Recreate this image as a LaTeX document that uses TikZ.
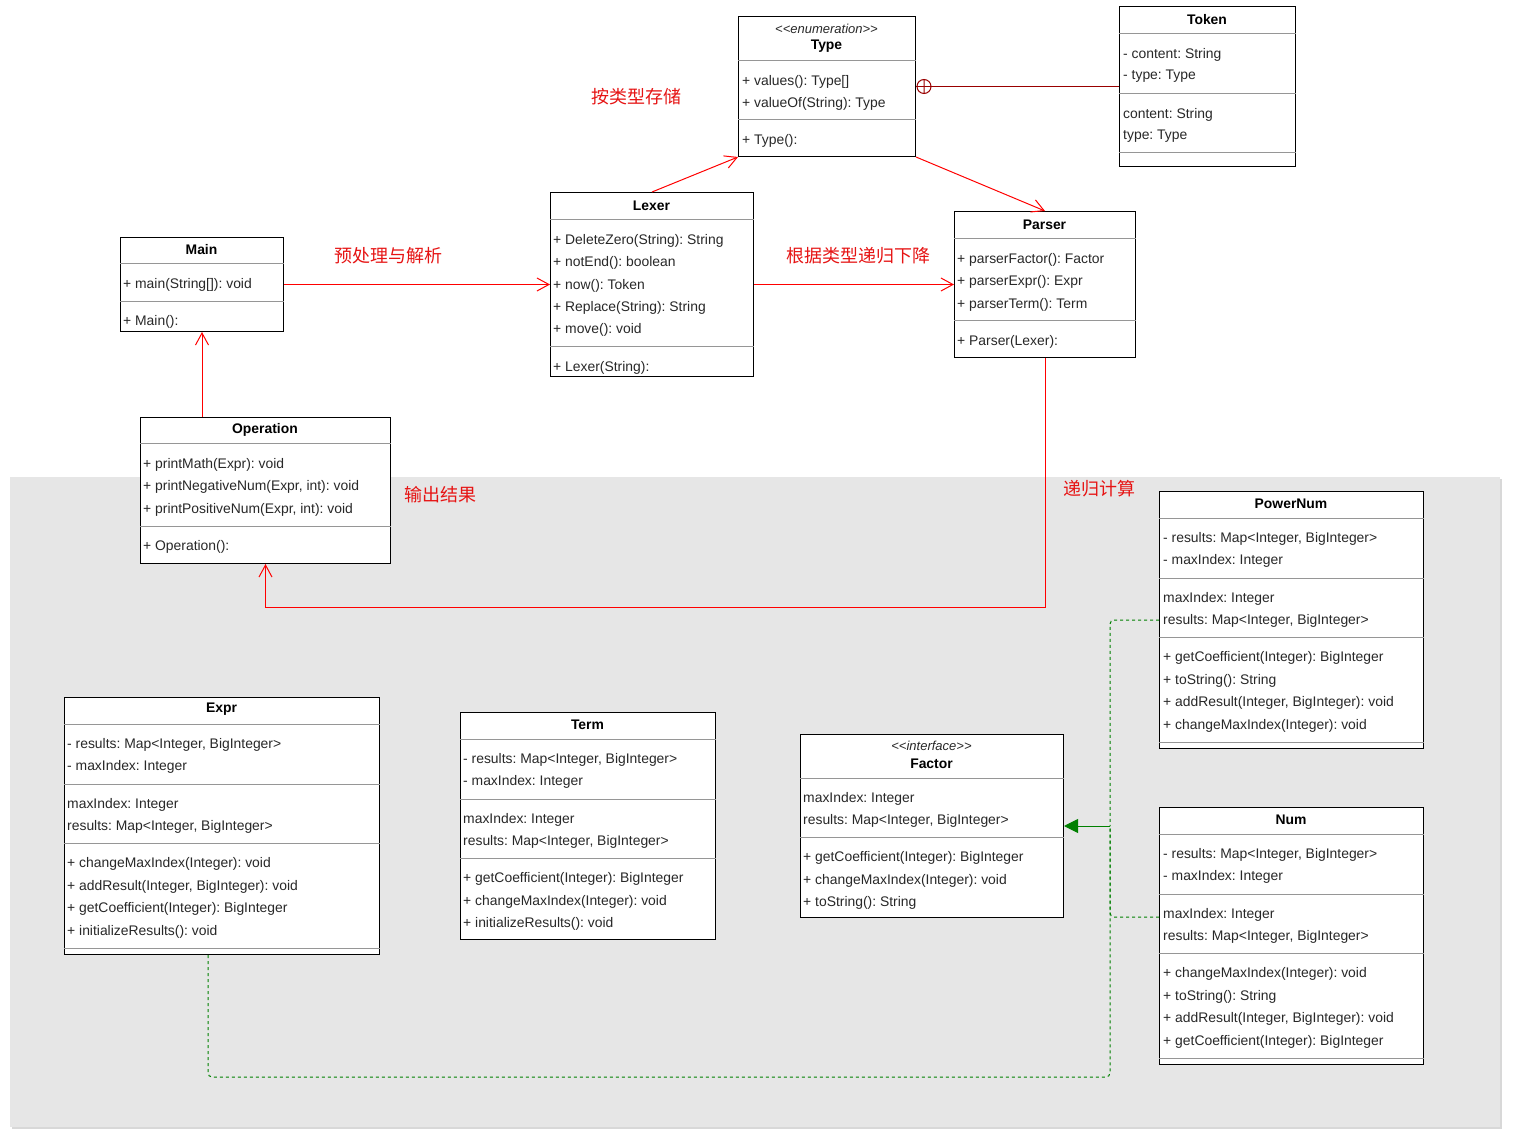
\documentclass[tikz,border=0pt]{standalone}
\usepackage{fontspec}
\setmainfont{Liberation Sans}
\newfontfamily\cjk{Noto Sans CJK SC}
\usetikzlibrary{arrows.meta,calc,shadows}
\frenchspacing
\definecolor{zonegray}{RGB}{230,230,230}
\definecolor{edge}{RGB}{150,150,150}
\definecolor{ink}{RGB}{40,40,40}
\definecolor{flowred}{RGB}{230,20,20}
\definecolor{ownred}{RGB}{153,0,0}
\definecolor{implgreen}{RGB}{0,128,0}
\tikzset{
  classbox/.style={draw=black,fill=white,line width=1pt,anchor=north west,inner sep=0pt},
  ttl/.style={font=\fontsize{13.9}{16}\selectfont\bfseries,text=black,inner sep=0pt,yshift=-1.5pt},
  stereo/.style={font=\fontsize{13}{15}\selectfont\itshape,text=ink,inner sep=0pt,yshift=-1pt},
  member/.style={anchor=west,font=\fontsize{13.9}{16}\selectfont,text=ink,inner sep=0pt,yshift=-1.5pt},
  sep/.style={draw=edge,line width=1pt},
  rel/.style={draw=red,line width=1pt,-{Straight Barb[length=12pt,width=13pt]}},
  own/.style={draw=ownred,line width=1pt},
  real/.style={draw=implgreen,line width=1pt,dash pattern=on 3pt off 3pt,rounded corners=4pt},
  realhead/.style={draw=implgreen,line width=1pt,-{Triangle[length=14pt,width=14pt,fill=implgreen]}},
  note/.style={font=\cjk\fontsize{18}{20}\selectfont,text=flowred,inner sep=0pt},
  area/.style={fill=zonegray,anchor=north west,inner sep=0pt,
    drop shadow={shadow xshift=2pt,shadow yshift=-2pt,opacity=0.3}},
}
% rows of a class: node, x, list of y/text
\newcommand{\members}[3]{\foreach \yy/\mem [count=\k] in {#3} \node[member] (#1-\k) at (#2,\yy) {\mem};}
% compartment lines of a class
\newcommand{\seps}[2]{\foreach \yy in {#2} \draw[sep] (#1.west |- 0,\yy) -- (#1.east |- 0,\yy);}

\begin{document}
\begin{tikzpicture}[x=1pt,y=-1pt]
  \fill[white] (0,0) rectangle (1513,1139);
  \useasboundingbox (0,0) rectangle (1513,1139);
  \node[area,minimum width=1490,minimum height=650] (zone) at (10,477) {};

  % Type
  \node[classbox,minimum width=177,minimum height=140] (type) at (738,16) {};
  \node[stereo] (type-s) at (826.5,28) {<\kern0pt<enumeration>\kern0pt>};
  \node[ttl] (type-t) at (826.5,45) {Type};
  \seps{type}{61,120}
  \members{type}{742}{80/+ values(): Type[], 102/+ valueOf(String): Type, 139/+ Type():}

  % Token
  \node[classbox,minimum width=176,minimum height=160] (token) at (1119,6) {};
  \node[ttl] (token-t) at (1207,18) {Token};
  \seps{token}{34,94,153}
  \members{token}{1123}{53/- content: String, 75/- type: Type, 113/content: String, 135/type: Type}

  % Lexer
  \node[classbox,minimum width=203,minimum height=184] (lexer) at (550,192) {};
  \node[ttl] (lexer-t) at (651.5,204) {Lexer};
  \seps{lexer}{220,347}
  \members{lexer}{553}{239/+ DeleteZero(String): String, 261/+ notEnd(): boolean, 284/+ now(): Token,
    306/+ Replace(String): String, 328/+ move(): void, 366/+ Lexer(String):}

  % Parser
  \node[classbox,minimum width=181,minimum height=146] (parser) at (954,211) {};
  \node[ttl] (parser-t) at (1044.5,223) {Parser};
  \seps{parser}{239,321}
  \members{parser}{957}{258/+ parserFactor(): Factor, 280/+ parserExpr(): Expr, 303/+ parserTerm(): Term,
    340/+ Parser(Lexer):}

  % Main
  \node[classbox,minimum width=163,minimum height=94] (main) at (120,237) {};
  \node[ttl] (main-t) at (201.5,248) {Main};
  \seps{main}{264,302}
  \members{main}{123}{283/+ main(String[]): void, 320/+ Main():}

  % Operation
  \node[classbox,minimum width=250,minimum height=146] (operation) at (140,417) {};
  \node[ttl] (operation-t) at (265,428) {Operation};
  \seps{operation}{444,526}
  \members{operation}{143}{463/+ printMath(Expr): void, 485/{+ printNegativeNum(Expr, int): void},
    508/{+ printPositiveNum(Expr, int): void}, 545/+ Operation():}

  % PowerNum
  \node[classbox,minimum width=264,minimum height=257] (powernum) at (1159,491) {};
  \node[ttl] (powernum-t) at (1291,502) {PowerNum};
  \seps{powernum}{518,578,637,742}
  \members{powernum}{1163}{537/{- results: Map<Integer, BigInteger>}, 559/- maxIndex: Integer,
    597/maxIndex: Integer, 619/{results: Map<Integer, BigInteger>},
    656/+ getCoefficient(Integer): BigInteger, 679/+ toString(): String,
    701/{+ addResult(Integer, BigInteger): void}, 724/+ changeMaxIndex(Integer): void}

  % Expr
  \node[classbox,minimum width=315,minimum height=257] (expr) at (64,697) {};
  \node[ttl] (expr-t) at (221.5,708) {Expr};
  \seps{expr}{724,784,843,948}
  \members{expr}{67}{743/{- results: Map<Integer, BigInteger>}, 765/- maxIndex: Integer,
    803/maxIndex: Integer, 825/{results: Map<Integer, BigInteger>},
    862/+ changeMaxIndex(Integer): void, 885/{+ addResult(Integer, BigInteger): void},
    907/+ getCoefficient(Integer): BigInteger, 930/+ initializeResults(): void}

  % Term
  \node[classbox,minimum width=255,minimum height=227] (term) at (460,712) {};
  \node[ttl] (term-t) at (587.5,723) {Term};
  \seps{term}{739,799,858}
  \members{term}{463}{758/{- results: Map<Integer, BigInteger>}, 780/- maxIndex: Integer,
    818/maxIndex: Integer, 840/{results: Map<Integer, BigInteger>},
    877/+ getCoefficient(Integer): BigInteger, 900/+ changeMaxIndex(Integer): void,
    922/+ initializeResults(): void}

  % Factor
  \node[classbox,minimum width=263,minimum height=183] (factor) at (800,734) {};
  \node[stereo] (factor-s) at (931.5,745) {<\kern0pt<interface>\kern0pt>};
  \node[ttl] (factor-t) at (931.5,762) {Factor};
  \seps{factor}{778,837}
  \members{factor}{803}{797/maxIndex: Integer, 819/{results: Map<Integer, BigInteger>},
    856/+ getCoefficient(Integer): BigInteger, 879/+ changeMaxIndex(Integer): void,
    901/+ toString(): String}

  % Num
  \node[classbox,minimum width=264,minimum height=257] (num) at (1159,807) {};
  \node[ttl] (num-t) at (1291,818) {Num};
  \seps{num}{834,894,953,1058}
  \members{num}{1163}{853/{- results: Map<Integer, BigInteger>}, 875/- maxIndex: Integer,
    913/maxIndex: Integer, 935/{results: Map<Integer, BigInteger>},
    972/+ changeMaxIndex(Integer): void, 995/+ toString(): String,
    1017/{+ addResult(Integer, BigInteger): void}, 1040/+ getCoefficient(Integer): BigInteger}

  % labels
  \node[note] (lbl-store) at (636,97) {按类型存储};
  \node[note] (lbl-parse) at (388,256) {预处理与解析};
  \node[note] (lbl-descent) at (858,256) {根据类型递归下降};
  \node[note] (lbl-output) at (440,495) {输出结果};
  \node[note] (lbl-calc) at (1099,489) {递归计算};

  % associations
  \draw[rel] (main.east) -- (lexer.west);
  \draw[rel] (lexer.east) -- (parser.west);
  \draw[rel] (lexer.north) -- (type.south west);
  \draw[rel] (type.south east) -- (parser.north);
  \draw[rel] (main.south |- operation.north) -- (main.south);
  \draw[rel] (parser.south) -- ++(0,249) -| (operation.south);

  % nesting
  \draw[own] (token.west) -- (type.east);
  \draw[own] ([xshift=8pt]type.east) circle[radius=7]
    ([xshift=8pt,yshift=7pt]type.east) -- ([xshift=8pt,yshift=-7pt]type.east);

  % realizations
  \coordinate (fork) at ([xshift=46pt]factor.east);
  \draw[real] (powernum.west) -| (fork);
  \draw[real] ([yshift=19pt]num.west) -| (fork);
  \draw[real] ([xshift=-14pt]expr.south) -- ++(0,122) -| (fork);
  \draw[realhead] (fork) -- (factor.east);
\end{tikzpicture}
\end{document}
